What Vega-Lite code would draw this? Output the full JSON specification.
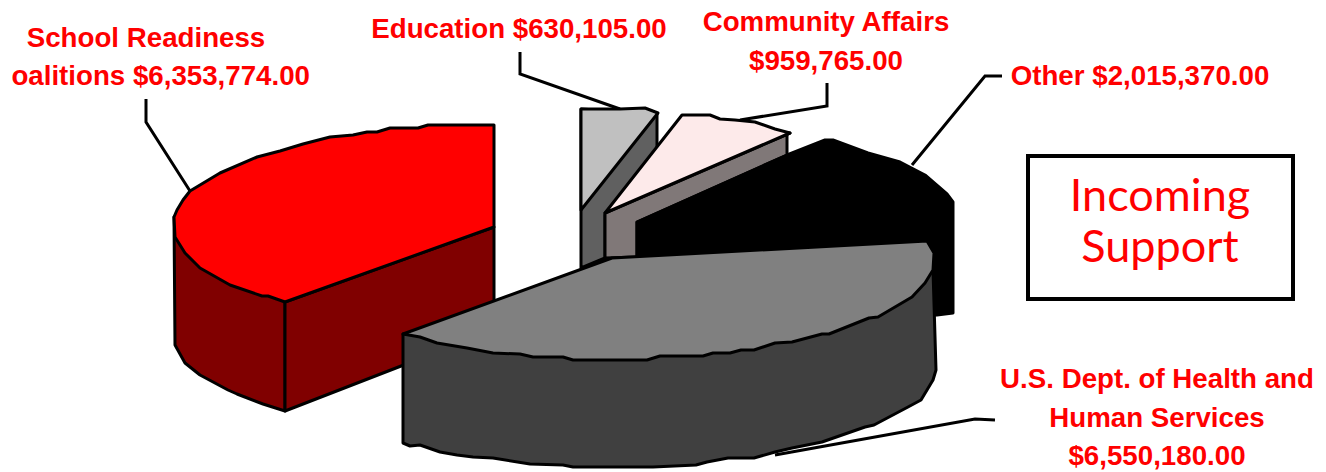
{"$schema":"https://vega.github.io/schema/vega-lite/v6.json","width":1326,"height":472,"autosize":{"type":"none"},"padding":0,"background":"white","view":{"stroke":null},
"datasets":{"outline":[
{"part":"School left side","x":174,"y":217},{"part":"School left side","x":285,"y":302},{"part":"School left side","x":285,"y":411},{"part":"School left side","x":263,"y":404},{"part":"School left side","x":237,"y":394},{"part":"School left side","x":228,"y":390},{"part":"School left side","x":200,"y":375},{"part":"School left side","x":185,"y":363},{"part":"School left side","x":175,"y":345},
{"part":"School right side","x":285,"y":302},{"part":"School right side","x":494,"y":227},{"part":"School right side","x":494,"y":330},{"part":"School right side","x":285,"y":411},
{"part":"School top","x":494,"y":125},{"part":"School top","x":428,"y":125},{"part":"School top","x":418,"y":128},{"part":"School top","x":390,"y":128},{"part":"School top","x":377,"y":132},{"part":"School top","x":367,"y":132},{"part":"School top","x":353,"y":135},{"part":"School top","x":330,"y":137},{"part":"School top","x":303,"y":144},{"part":"School top","x":280,"y":151},{"part":"School top","x":257,"y":157},{"part":"School top","x":220,"y":173},{"part":"School top","x":190,"y":191},{"part":"School top","x":183,"y":200},{"part":"School top","x":177,"y":210},{"part":"School top","x":174,"y":217},{"part":"School top","x":175,"y":237},{"part":"School top","x":185,"y":253},{"part":"School top","x":200,"y":268},{"part":"School top","x":230,"y":285},{"part":"School top","x":262,"y":296},{"part":"School top","x":268,"y":296},{"part":"School top","x":285,"y":302},{"part":"School top","x":494,"y":227},
{"part":"Education side","x":581,"y":109},{"part":"Education side","x":657,"y":114},{"part":"Education side","x":657,"y":150},{"part":"Education side","x":605,"y":215},{"part":"Education side","x":605,"y":258},{"part":"Education side","x":581,"y":268},
{"part":"Education top","x":581,"y":109},{"part":"Education top","x":620,"y":109},{"part":"Education top","x":645,"y":108},{"part":"Education top","x":658,"y":113},{"part":"Education top","x":581,"y":210},
{"part":"Community side","x":605,"y":213},{"part":"Community side","x":790,"y":133},{"part":"Community side","x":787,"y":134},{"part":"Community side","x":787,"y":155},{"part":"Community side","x":637,"y":222},{"part":"Community side","x":637,"y":257},{"part":"Community side","x":605,"y":258},
{"part":"Community top","x":605,"y":213},{"part":"Community top","x":682,"y":115},{"part":"Community top","x":710,"y":115},{"part":"Community top","x":720,"y":119},{"part":"Community top","x":735,"y":120},{"part":"Community top","x":755,"y":122},{"part":"Community top","x":775,"y":129},{"part":"Community top","x":790,"y":133},
{"part":"Other","x":787,"y":155},{"part":"Other","x":825,"y":140},{"part":"Other","x":833,"y":140},{"part":"Other","x":868,"y":153},{"part":"Other","x":900,"y":162},{"part":"Other","x":925,"y":175},{"part":"Other","x":947,"y":194},{"part":"Other","x":953,"y":202},{"part":"Other","x":953,"y":313},{"part":"Other","x":937,"y":315},{"part":"Other","x":700,"y":330},{"part":"Other","x":637,"y":257},{"part":"Other","x":637,"y":222},
{"part":"HHS side","x":403,"y":334},{"part":"HHS side","x":933,"y":270},{"part":"HHS side","x":936,"y":370},{"part":"HHS side","x":933,"y":380},{"part":"HHS side","x":921,"y":400},{"part":"HHS side","x":908,"y":407},{"part":"HHS side","x":874,"y":425},{"part":"HHS side","x":865,"y":427},{"part":"HHS side","x":822,"y":442},{"part":"HHS side","x":792,"y":448},{"part":"HHS side","x":775,"y":452},{"part":"HHS side","x":754,"y":458},{"part":"HHS side","x":728,"y":458},{"part":"HHS side","x":707,"y":462},{"part":"HHS side","x":696,"y":465},{"part":"HHS side","x":653,"y":467},{"part":"HHS side","x":573,"y":467},{"part":"HHS side","x":563,"y":465},{"part":"HHS side","x":530,"y":464},{"part":"HHS side","x":493,"y":458},{"part":"HHS side","x":473,"y":457},{"part":"HHS side","x":457,"y":455},{"part":"HHS side","x":440,"y":452},{"part":"HHS side","x":420,"y":445},{"part":"HHS side","x":410,"y":446},{"part":"HHS side","x":403,"y":443},
{"part":"HHS top","x":403,"y":334},{"part":"HHS top","x":612,"y":258},{"part":"HHS top","x":927,"y":241},{"part":"HHS top","x":934,"y":253},{"part":"HHS top","x":933,"y":270},{"part":"HHS top","x":925,"y":283},{"part":"HHS top","x":912,"y":297},{"part":"HHS top","x":878,"y":317},{"part":"HHS top","x":869,"y":318},{"part":"HHS top","x":829,"y":334},{"part":"HHS top","x":822,"y":334},{"part":"HHS top","x":792,"y":342},{"part":"HHS top","x":775,"y":343},{"part":"HHS top","x":754,"y":350},{"part":"HHS top","x":741,"y":350},{"part":"HHS top","x":730,"y":353},{"part":"HHS top","x":713,"y":353},{"part":"HHS top","x":703,"y":356},{"part":"HHS top","x":660,"y":356},{"part":"HHS top","x":647,"y":360},{"part":"HHS top","x":573,"y":360},{"part":"HHS top","x":563,"y":357},{"part":"HHS top","x":533,"y":357},{"part":"HHS top","x":520,"y":354},{"part":"HHS top","x":493,"y":353},{"part":"HHS top","x":467,"y":348},{"part":"HHS top","x":437,"y":343},{"part":"HHS top","x":420,"y":337}
],
"leaders":[
{"leader":"School","x":146,"y":99},{"leader":"School","x":146,"y":122},{"leader":"School","x":190,"y":191},
{"leader":"Education","x":520,"y":52},{"leader":"Education","x":520,"y":74},{"leader":"Education","x":620,"y":109},
{"leader":"Community","x":827,"y":83},{"leader":"Community","x":827,"y":106},{"leader":"Community","x":740,"y":120},
{"leader":"Other","x":1002,"y":76},{"leader":"Other","x":985,"y":76},{"leader":"Other","x":912,"y":165},
{"leader":"HHS","x":995,"y":420},{"leader":"HHS","x":975,"y":419},{"leader":"HHS","x":775,"y":455}
],
"labels":[
{"t":"School Readiness","x":146,"y":47},
{"t":"Education $630,105.00","x":519,"y":38},
{"t":"Community Affairs","x":826,"y":31},
{"t":"$959,765.00","x":826,"y":70},
{"t":"Other $2,015,370.00","x":1140,"y":85},
{"t":"U.S. Dept. of Health and","x":1157,"y":388},
{"t":"Human Services","x":1157,"y":427},
{"t":"$6,550,180.00","x":1157,"y":465}
]},
"layer":[
{"data":{"name":"leaders"},"mark":{"type":"line","stroke":"black","strokeWidth":3},"encoding":{"x":{"field":"x","type":"quantitative","scale":{"domain":[0,1326],"nice":false,"zero":false},"axis":null},"y":{"field":"y","type":"quantitative","scale":{"domain":[472,0],"nice":false,"zero":false},"axis":null},"detail":{"field":"leader"},"order":{"value":null}}},
{"data":{"name":"outline"},"mark":{"type":"line","stroke":"black","strokeWidth":3,"strokeJoin":"round","interpolate":"linear-closed"},"encoding":{"x":{"field":"x","type":"quantitative"},"y":{"field":"y","type":"quantitative"},"fill":{"field":"part","type":"nominal","legend":null,"sort":null,"scale":{"domain":["School left side","School right side","School top","Education side","Education top","Community side","Community top","Other","HHS side","HHS top"],"range":["#800000","#800000","#ff0000","#606060","#c0c0c0","#807878","#fdeaea","#000000","#404040","#808080"]}},"detail":{"field":"part"},"order":{"value":null}}},
{"data":{"name":"labels"},"mark":{"type":"text","font":"Liberation Sans","fontWeight":"bold","fontSize":27.7,"color":"#ff0000","align":"center","baseline":"alphabetic"},"encoding":{"x":{"field":"x","type":"quantitative"},"y":{"field":"y","type":"quantitative"},"text":{"field":"t"}}},
{"data":{"values":[{"t":"Coalitions $6,353,774.00","x":310,"y":85}]},"mark":{"type":"text","font":"Liberation Sans","fontWeight":"bold","fontSize":27.7,"color":"#ff0000","align":"right","baseline":"alphabetic"},"encoding":{"x":{"field":"x","type":"quantitative"},"y":{"field":"y","type":"quantitative"},"text":{"field":"t"}}},
{"data":{"values":[{"x":0,"x2":12,"y":55,"y2":95}]},"mark":{"type":"rect","fill":"white"},"encoding":{"x":{"field":"x","type":"quantitative"},"x2":{"field":"x2"},"y":{"field":"y","type":"quantitative"},"y2":{"field":"y2"}}},
{"data":{"values":[{"x":1028,"x2":1293,"y":156,"y2":299}]},"mark":{"type":"rect","fill":"white","stroke":"black","strokeWidth":4},"encoding":{"x":{"field":"x","type":"quantitative"},"x2":{"field":"x2"},"y":{"field":"y","type":"quantitative"},"y2":{"field":"y2"}}},
{"data":{"values":[{"t":"Incoming","x":1160,"y":211},{"t":"Support","x":1160,"y":262}]},"mark":{"type":"text","font":"Lato","fontSize":45,"color":"#ff0000","align":"center","baseline":"alphabetic"},"encoding":{"x":{"field":"x","type":"quantitative"},"y":{"field":"y","type":"quantitative"},"text":{"field":"t"}}}
]}
